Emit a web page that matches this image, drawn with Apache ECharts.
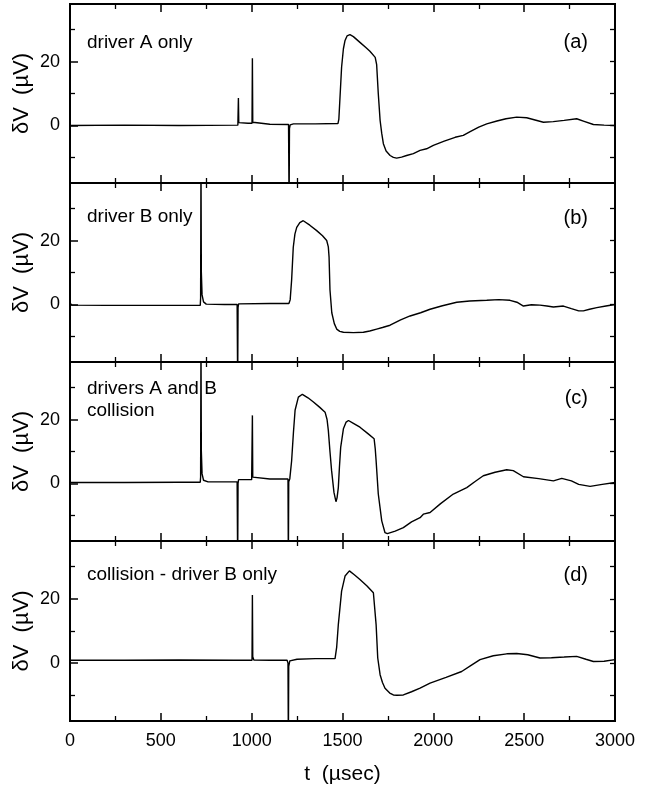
<!DOCTYPE html>
<html>
<head>
<meta charset="utf-8">
<script src="https://cdn.jsdelivr.net/npm/echarts@6/dist/echarts.min.js"></script>
<style>html,body{margin:0;padding:0;background:#fff}#c{width:659px;height:787px}</style>
</head>
<body>
<div id="c"></div>
<script>
// ---- data (t in µsec, δV in µV) ----
const xTicks = [0, 500, 1000, 1500, 2000, 2500, 3000];
const xMinorTicks = [250, 750, 1250, 1750, 2250, 2750];
const yLabelTicks = [0, 20];
const yMinorTicks = [-10, 10, 30];
const yAllTicks = [-10, 0, 10, 20, 30];
const panelNames = ['driver A only', 'driver B only', 'drivers A and B\ncollision', 'collision - driver B only'];
const panelTags = ['(a)', '(b)', '(c)', '(d)'];

const traceA = [[0,0],[300,0.1],[600,0],[924,0.1],[926,0.2],[927,8.6],[929,0.9],[940,0.8],[980,0.7],[1002,0.7],[1004,21],[1006,1],[1010,0.5],[1100,0.4],[1203,0.3],[1205,0],[1206,-25],[1208,-1],[1212,0.2],[1230,0.5],[1350,0.5],[1475,0.6],[1480,2],[1495,18.2],[1505,24],[1514,26.6],[1525,28],[1541,28.4],[1560,27.8],[1596,26],[1630,24.3],[1651,23.2],[1680,21.3],[1688,19],[1697,9.9],[1707,1.6],[1716,-2.5],[1725,-5.7],[1740,-8],[1762,-9.4],[1780,-10],[1798,-10.2],[1825,-9.9],[1853,-9.4],[1890,-8.8],[1927,-7.8],[1963,-7.3],[2000,-6.2],[2060,-4.9],[2120,-3.7],[2165,-3.1],[2200,-2],[2250,-0.5],[2294,0.5],[2350,1.4],[2400,2.1],[2459,2.6],[2514,2.4],[2560,1.7],[2606,1.0],[2660,1.2],[2720,1.6],[2789,2.1],[2830,1.3],[2881,0.3],[2940,0.1],[3000,0]];

const traceB = [[0,0.5],[10,-0.2],[200,-0.3],[500,-0.3],[717,-0.3],[719,2],[721,45],[723,10],[727,3],[735,0.8],[750,0.1],[850,0],[920,0],[922,-0.2],[923,-25],[925,-1],[928,0.2],[935,0.4],[1100,0.3],[1205,0.3],[1212,1.5],[1220,7.7],[1229,17.9],[1238,22],[1248,24.1],[1265,25.6],[1284,26.2],[1320,24.8],[1358,23.1],[1390,21.5],[1413,20],[1422,18],[1426,14.9],[1431,4.6],[1441,-2.6],[1455,-6],[1468,-7.7],[1485,-8.4],[1505,-8.7],[1560,-8.8],[1615,-8.7],[1650,-8.3],[1688,-7.7],[1720,-7.2],[1762,-6.5],[1820,-4.8],[1872,-3.6],[1930,-2.6],[1982,-1.5],[2050,-0.4],[2129,0.7],[2200,1.1],[2294,1.3],[2360,1.5],[2422,1.3],[2460,0.7],[2496,-0.5],[2540,-0.1],[2587,-0.2],[2625,-0.5],[2661,-0.8],[2716,-0.5],[2760,-1.3],[2800,-2],[2826,-2],[2860,-1.5],[2900,-1],[2950,-0.5],[3000,0]];

const traceC = [[0,0.3],[300,0.3],[600,0.4],[717,0.4],[719,2],[721,45],[723,10],[727,3],[735,1],[760,0.5],[900,0.5],[920,0.5],[922,0.3],[923,-25],[925,0],[928,1.2],[1000,1.2],[1002,1.3],[1004,21.3],[1006,2],[1012,1.4],[1100,1.4],[1200,1.4],[1202,-25],[1204,0.5],[1210,1.5],[1220,7.1],[1230,16],[1239,22.9],[1257,27],[1279,27.9],[1310,26.8],[1340,25.5],[1375,23.8],[1404,22.3],[1415,20],[1422,16.6],[1431,10],[1440,4],[1453,-2.8],[1464,-5.7],[1470,-4.5],[1477,-1.3],[1483,5],[1490,11.3],[1505,17.1],[1520,19.2],[1533,19.7],[1560,18.8],[1596,17.6],[1640,15.6],[1674,14],[1680,11],[1685,7.1],[1697,-3.3],[1716,-11.7],[1734,-15.4],[1747,-15.7],[1790,-14.9],[1835,-13.8],[1880,-12],[1927,-10.7],[1945,-9.6],[1982,-9.1],[2040,-6.3],[2110,-3.3],[2184,-1.3],[2230,0.6],[2275,2.4],[2340,3.5],[2404,4.3],[2440,4],[2496,2.1],[2580,1.5],[2661,0.8],[2707,1.6],[2760,0.8],[2800,-0.3],[2863,-0.9],[2930,-0.3],[3000,0.3]];

const traceD = [[0,0.9],[300,0.9],[600,1],[900,0.9],[1002,0.9],[1004,21.2],[1006,2],[1012,1],[1100,0.9],[1195,0.9],[1200,0],[1202,-25],[1204,-1],[1210,0.7],[1250,1.2],[1350,1.4],[1459,1.4],[1468,5],[1477,12],[1495,22.4],[1514,27.1],[1538,28.7],[1565,27.5],[1596,26],[1635,24],[1670,21.9],[1685,12],[1694,1.6],[1707,-3.6],[1720,-6],[1734,-7.8],[1760,-9.3],[1780,-9.9],[1800,-10],[1835,-9.9],[1880,-8.9],[1927,-7.8],[1982,-6.2],[2070,-4.4],[2156,-2.6],[2210,-0.6],[2257,1.1],[2330,2.3],[2404,2.9],[2459,3],[2520,2.6],[2587,1.6],[2650,1.7],[2720,1.9],[2789,2.1],[2840,1.2],[2881,0.5],[2940,0.6],[3000,1.1]];

const traces = [traceA, traceB, traceC, traceD];

// ---- layout ----
const FONT = 'Liberation Sans, Arial, Helvetica, sans-serif';
const gridTops = [4, 183, 362, 541];
const gridHeights = [179, 179, 179, 180];
const nameTops = [32, 206, 378, 564];
const tagTops = [31, 207, 387, 564];
const NY = 3; // y axes per grid
const NX = 4; // x axes per grid

const grids = [], xAxes = [], yAxes = [], series = [], titles = [];
for (let i = 0; i < 4; i++) {
  grids.push({left: 70, width: 545, top: gridTops[i], height: gridHeights[i],
    show: true, borderColor: '#000', borderWidth: 2, backgroundColor: 'transparent',
    containLabel: false, outerBoundsMode: 'none'});
  const xBase = {gridIndex: i, type: 'value', min: 0, max: 3000, splitLine: {show: false}, offset: -1,
    axisLine: {show: false, onZero: false}};
  xAxes.push({...xBase, position: 'bottom',
    axisTick: {show: true, inside: true, length: 7, customValues: xTicks, lineStyle: {color: '#000', width: 1.5}},
    axisLabel: {show: i === 3, customValues: xTicks, color: '#000', fontSize: 18, fontFamily: FONT, margin: 12,
      formatter: v => String(v)},
    name: i === 3 ? 't  (\u00b5sec)' : '', nameLocation: 'middle', nameGap: 44, nameMoveOverlap: false,
    nameTextStyle: {color: '#000', fontSize: 21, fontFamily: FONT}});
  xAxes.push({...xBase, position: 'bottom',
    axisTick: {show: true, inside: true, length: 4, customValues: xMinorTicks, lineStyle: {color: '#000', width: 1.3}},
    axisLabel: {show: false}});
  xAxes.push({...xBase, position: 'top',
    axisTick: {show: true, inside: true, length: 7, customValues: xTicks, lineStyle: {color: '#000', width: 1.5}},
    axisLabel: {show: false}});
  xAxes.push({...xBase, position: 'top',
    axisTick: {show: true, inside: true, length: 4, customValues: xMinorTicks, lineStyle: {color: '#000', width: 1.3}},
    axisLabel: {show: false}});

  const yBase = {gridIndex: i, type: 'value', min: -18, max: 38,
    axisLine: {show: false, onZero: false}, splitLine: {show: false}};
  yAxes.push({...yBase, position: 'left',
    axisTick: {show: true, inside: true, length: 8, customValues: yLabelTicks, lineStyle: {color: '#000', width: 1.5}},
    axisLabel: {show: true, customValues: yLabelTicks, color: '#000', fontSize: 18, fontFamily: FONT, margin: 10},
    name: '\u03b4V  (\u00b5V)', nameLocation: 'middle', nameGap: 37, nameRotate: 90, nameMoveOverlap: false,
    nameTextStyle: {color: '#000', fontSize: 22, fontFamily: FONT}});
  yAxes.push({...yBase, position: 'left',
    axisTick: {show: true, inside: true, length: 5, customValues: yMinorTicks, lineStyle: {color: '#000', width: 1.3}},
    axisLabel: {show: false}});
  yAxes.push({...yBase, position: 'right',
    axisTick: {show: true, inside: true, length: 5, customValues: yAllTicks, lineStyle: {color: '#000', width: 1.3}},
    axisLabel: {show: false}});

  series.push({type: 'line', xAxisIndex: NX * i, yAxisIndex: NY * i, data: traces[i],
    showSymbol: false, symbol: 'none', clip: true, animation: false,
    lineStyle: {color: '#000', width: 1.4}});

  titles.push({text: panelNames[i], left: 87, top: nameTops[i], padding: 0,
    textStyle: {color: '#000', fontSize: 19, fontWeight: 'normal', fontFamily: FONT, lineHeight: 22}});
  titles.push({text: panelTags[i], right: 71, top: tagTops[i], padding: 0,
    textStyle: {color: '#000', fontSize: 20, fontWeight: 'normal', fontFamily: FONT, lineHeight: 22}});
}

const chart = echarts.init(document.getElementById('c'), null, {renderer: 'canvas'});
chart.setOption({backgroundColor: '#fff', animation: false, title: titles,
  grid: grids, xAxis: xAxes, yAxis: yAxes, series: series});
</script>
</body>
</html>
